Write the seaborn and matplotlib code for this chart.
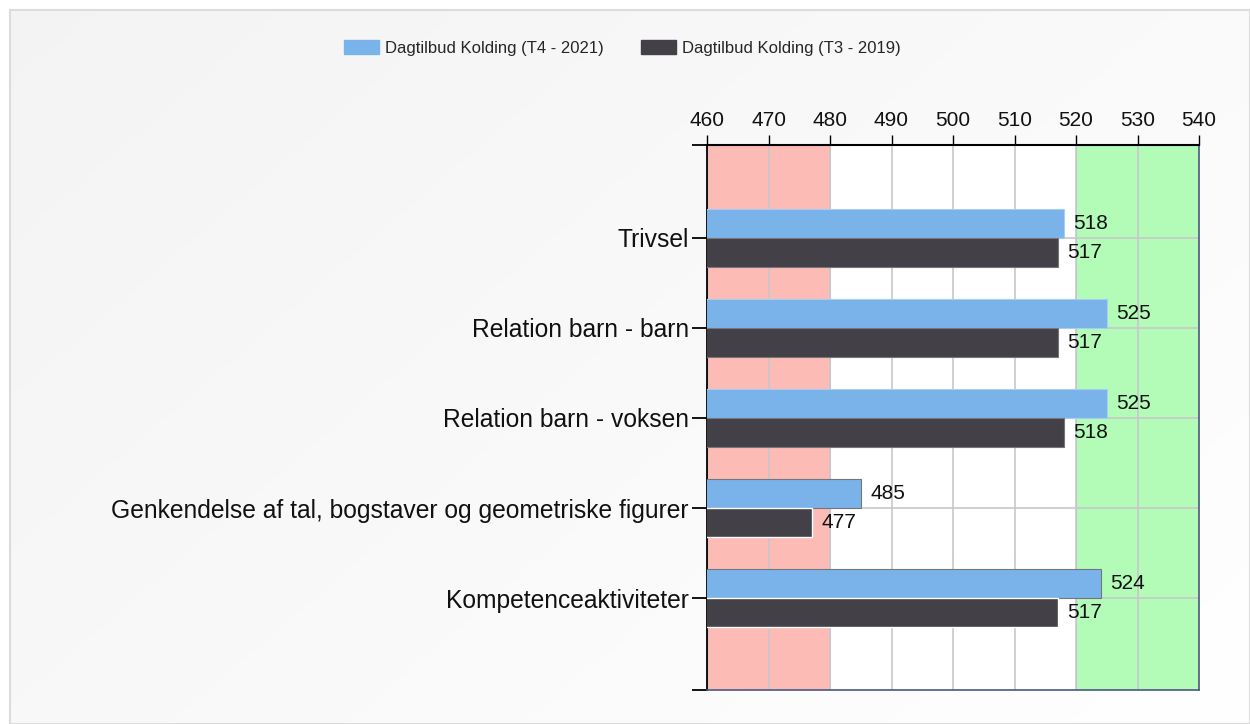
import numpy as np
import pandas as pd
import matplotlib
matplotlib.use("Agg")
import matplotlib.pyplot as plt
import seaborn as sns
from matplotlib.patches import Patch

# === Data ===
categories = [
    "Trivsel",
    "Relation barn - barn",
    "Relation barn - voksen",
    "Genkendelse af tal, bogstaver og geometriske figurer",
    "Kompetenceaktiviteter",
]
series_names = ["Dagtilbud Kolding (T4 - 2021)", "Dagtilbud Kolding (T3 - 2019)"]
values_2021 = [518, 525, 525, 485, 524]
values_2019 = [517, 517, 518, 477, 517]
x_ticks = [460, 470, 480, 490, 500, 510, 520, 530, 540]
low_band = (460, 480)
high_band = (520, 540)

colors = ["#7ab3ea", "#434147"]

df = pd.DataFrame({
    "kategori": categories * 2,
    "serie": [series_names[0]] * 5 + [series_names[1]] * 5,
    "score": values_2021 + values_2019,
})

sns.set_theme(style="white")
plt.rcParams["font.family"] = ["Liberation Sans", "DejaVu Sans"]

fig = plt.figure(figsize=(12.5, 7.24), dpi=100)
fig.patch.set_facecolor("white")

# === Panel background with soft gradient ===
bg = fig.add_axes([10 / 1250, 0, 1 - 10 / 1250, 1 - 10 / 724])
grad = np.linspace(0, 1, 256)
gx, gy = np.meshgrid(grad, grad)
g = 0.955 + 0.045 * (gx * 0.6 + gy * 0.4)
bg.imshow(np.dstack([g, g, g]), aspect="auto", extent=[0, 1, 0, 1], origin="upper")
bg.set_xticks([])
bg.set_yticks([])
for s in bg.spines.values():
    s.set_color("#dcdcdc")
    s.set_linewidth(1.5)

# === Main chart ===
ax = fig.add_axes([707 / 1250, 1 - 690 / 724, (1199 - 707) / 1250, (690 - 145) / 724])
ax.set_facecolor("white")
ax.axvspan(*low_band, color="#fdbbb5", zorder=0, lw=0)
ax.axvspan(*high_band, color="#b3fcb8", zorder=0, lw=0)

sns.barplot(data=df, y="kategori", x="score", hue="serie", order=categories,
            hue_order=series_names, palette=colors, orient="h", width=0.64,
            saturation=1, ax=ax, zorder=3, legend=False)

for patch, c in zip(ax.patches, ["#a8cdf2"] * 5 + ["#77757a"] * 5):
    patch.set_edgecolor(c)
    patch.set_linewidth(0.8)

for cont in ax.containers:
    ax.bar_label(cont, labels=[f"{v:.0f}" for v in cont.datavalues],
                 padding=7, fontsize=15, color="#111111")

ax.set_xlim(460, 540)
ax.set_ylim(5.02, -1.03)
ax.set_xticks(x_ticks)
ax.xaxis.tick_top()
ax.tick_params(axis="x", which="major", length=7, width=1, color="black",
               labelsize=15, labelcolor="#111111", pad=4, direction="out")
ax.set_yticks(range(len(categories)))
ax.set_yticklabels(categories, fontsize=17.7, color="#111111")
ax.set_yticks([-1.03, 5.02], minor=True)
ax.tick_params(axis="y", which="both", length=11, width=1.3, color="black",
               left=True, pad=2)
ax.set_xlabel("")
ax.set_ylabel("")

ax.grid(True, color="#c8c8c8", linewidth=1.2, zorder=1)
ax.set_axisbelow(True)

ax.spines["left"].set_color("black")
ax.spines["left"].set_linewidth(1.3)
ax.spines["top"].set_color("black")
ax.spines["top"].set_linewidth(1.5)
ax.spines["right"].set_color("#4a5a80")
ax.spines["bottom"].set_color("#4a5a80")
ax.spines["right"].set_linewidth(1.2)
ax.spines["bottom"].set_linewidth(1.2)

# === Legend ===
handles = [Patch(facecolor=colors[0], edgecolor=colors[0]),
           Patch(facecolor=colors[1], edgecolor=colors[1])]
fig.legend(handles, series_names, loc="center", bbox_to_anchor=(0.498, 1 - 48 / 724),
           ncol=2, frameon=False, fontsize=12, handlelength=2.1, handleheight=0.95,
           handletextpad=0.4, columnspacing=2.2)

fig.savefig("out.png", dpi=100)
